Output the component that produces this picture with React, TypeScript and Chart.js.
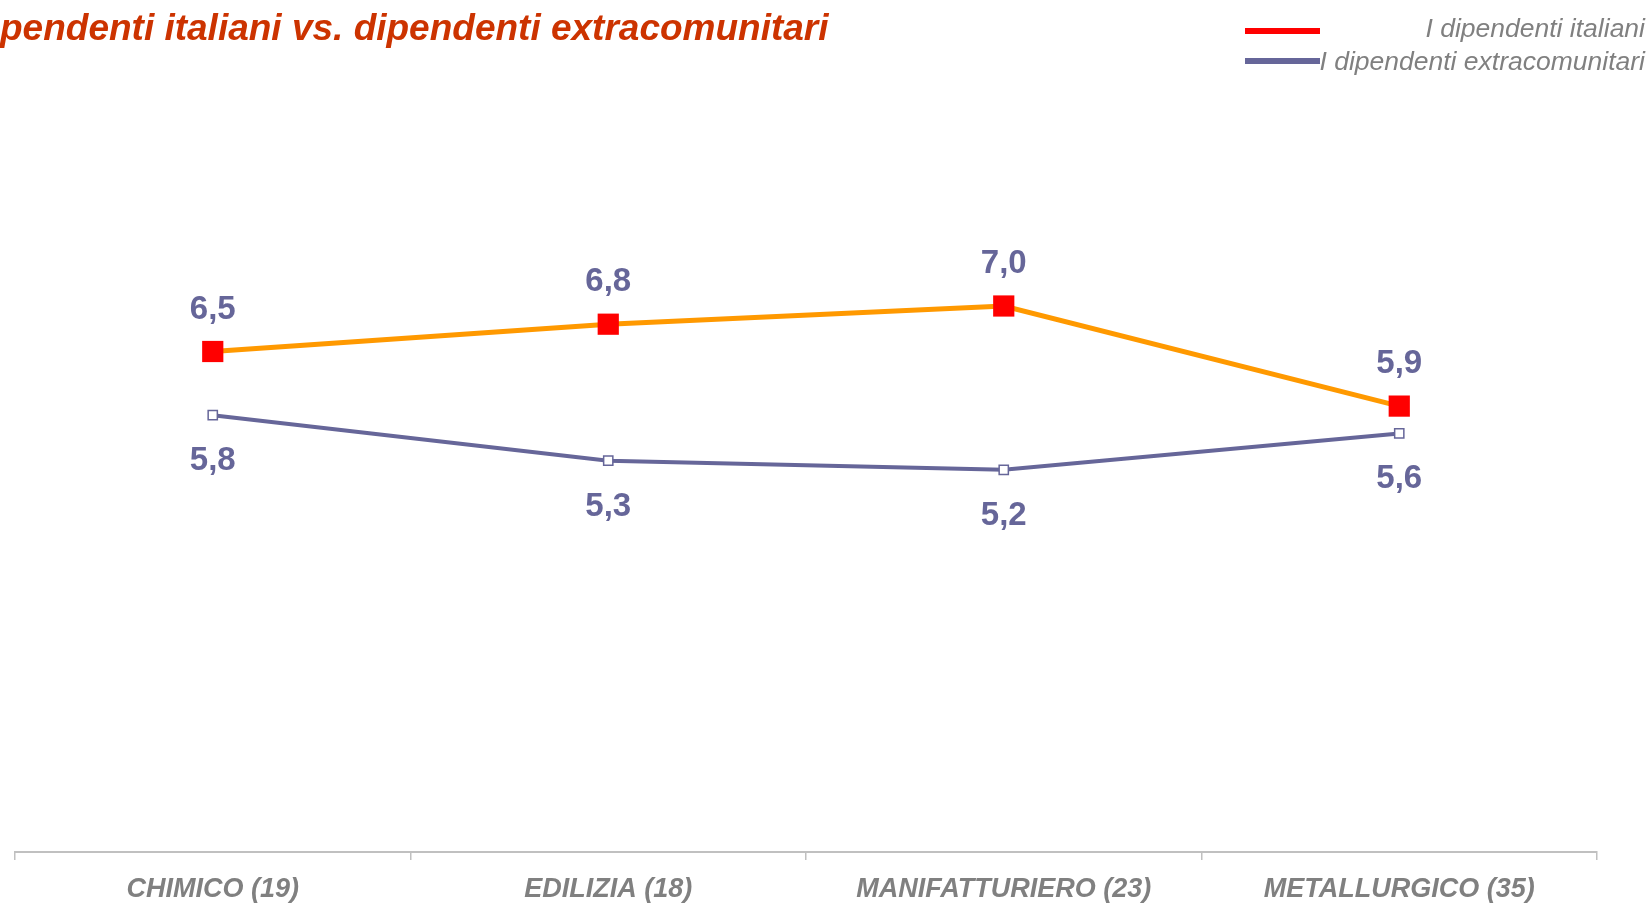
import React, { useEffect, useRef } from "react";
import { Chart, registerables } from "chart.js";

Chart.register(...registerables);

const categories = ["CHIMICO (19)", "EDILIZIA (18)", "MANIFATTURIERO (23)", "METALLURGICO (35)"];
const italiani = [6.5, 6.8, 7.0, 5.9];
const extracomunitari = [5.8, 5.3, 5.2, 5.6];
const seriesNames = ["I dipendenti italiani", "I dipendenti extracomunitari"];
const titleText = "pendenti italiani vs. dipendenti extracomunitari";

const FONT = "Arial, 'Liberation Sans', sans-serif";

const fmt = (v: number) => v.toFixed(1).replace(".", ",");

const overlayPlugin = {
  id: "overlay",
  afterDatasetsDraw(chart: any) {
    const ctx = chart.ctx;
    ctx.save();
    ctx.font = `bold 33px ${FONT}`;
    ctx.fillStyle = "#666699";
    ctx.textAlign = "center";
    ctx.textBaseline = "middle";
    chart.data.datasets.forEach((ds: any, di: number) => {
      const meta = chart.getDatasetMeta(di);
      meta.data.forEach((pt: any, i: number) => {
        const off = di === 0 ? -42 : 46;
        ctx.fillText(fmt(ds.data[i]), pt.x, pt.y + off);
      });
    });
    ctx.restore();
  },
  afterDraw(chart: any) {
    const ctx = chart.ctx;
    ctx.save();
    // Title
    ctx.font = `italic bold 37px ${FONT}`;
    ctx.fillStyle = "#CC3300";
    ctx.textAlign = "left";
    ctx.textBaseline = "alphabetic";
    ctx.fillText(titleText, 0, 40);
    // Legend
    const lines = [
      { color: "#FF0000", y: 31, base: 37 },
      { color: "#666699", y: 61, base: 70 },
    ];
    lines.forEach((l, i) => {
      ctx.strokeStyle = l.color;
      ctx.lineWidth = 6;
      ctx.beginPath();
      ctx.moveTo(1245, l.y);
      ctx.lineTo(1320, l.y);
      ctx.stroke();
      ctx.font = `italic 26.5px ${FONT}`;
      ctx.fillStyle = "#808080";
      ctx.textAlign = "right";
      ctx.fillText(seriesNames[i], 1645, l.base);
    });
    ctx.restore();
  },
};

export default function App() {
  const ref = useRef<HTMLCanvasElement | null>(null);
  useEffect(() => {
    if (!ref.current) return;
    const chart = new Chart(ref.current, {
      type: "line",
      data: {
        labels: categories,
        datasets: [
          {
            label: seriesNames[0],
            data: italiani,
            borderColor: "#FF9900",
            borderWidth: 5,
            pointStyle: "rect",
            pointRadius: 15,
            pointBackgroundColor: "#FF0000",
            pointBorderColor: "#FF0000",
            pointBorderWidth: 0,
            tension: 0,
          },
          {
            label: seriesNames[1],
            data: extracomunitari,
            borderColor: "#666699",
            borderWidth: 4,
            pointStyle: "rect",
            pointRadius: 6.5,
            pointBackgroundColor: "#FFFFFF",
            pointBorderColor: "#666699",
            pointBorderWidth: 1.5,
            tension: 0,
          },
        ],
      },
      options: {
        animation: false,
        responsive: false,
        layout: { padding: { left: 13, right: 55, top: 124, bottom: 0 } },
        plugins: { legend: { display: false }, tooltip: { enabled: false } },
        scales: {
          x: {
            offset: true,
            grid: {
              display: true,
              offset: true,
              drawOnChartArea: false,
              drawTicks: true,
              tickLength: 8,
              color: "#C0C0C0",
              lineWidth: 1.5,
            },
            border: { display: true, color: "#C0C0C0", width: 2 },
            ticks: {
              font: { size: 27, weight: "bold", style: "italic", family: FONT },
              color: "#808080",
              padding: 13,
              maxRotation: 0,
              autoSkip: false,
            },
            afterFit: (axis: any) => {
              axis.height = 51;
            },
          },
          y: { display: false, min: 1, max: 9 },
        },
      },
      plugins: [overlayPlugin],
    } as any);
    return () => chart.destroy();
  }, []);
  return (
    <div style={{ position: "fixed", left: 0, top: 0, width: 1652, height: 903, background: "#fff" }}>
      <canvas ref={ref} width={1652} height={903} style={{ display: "block" }} />
    </div>
  );
}
